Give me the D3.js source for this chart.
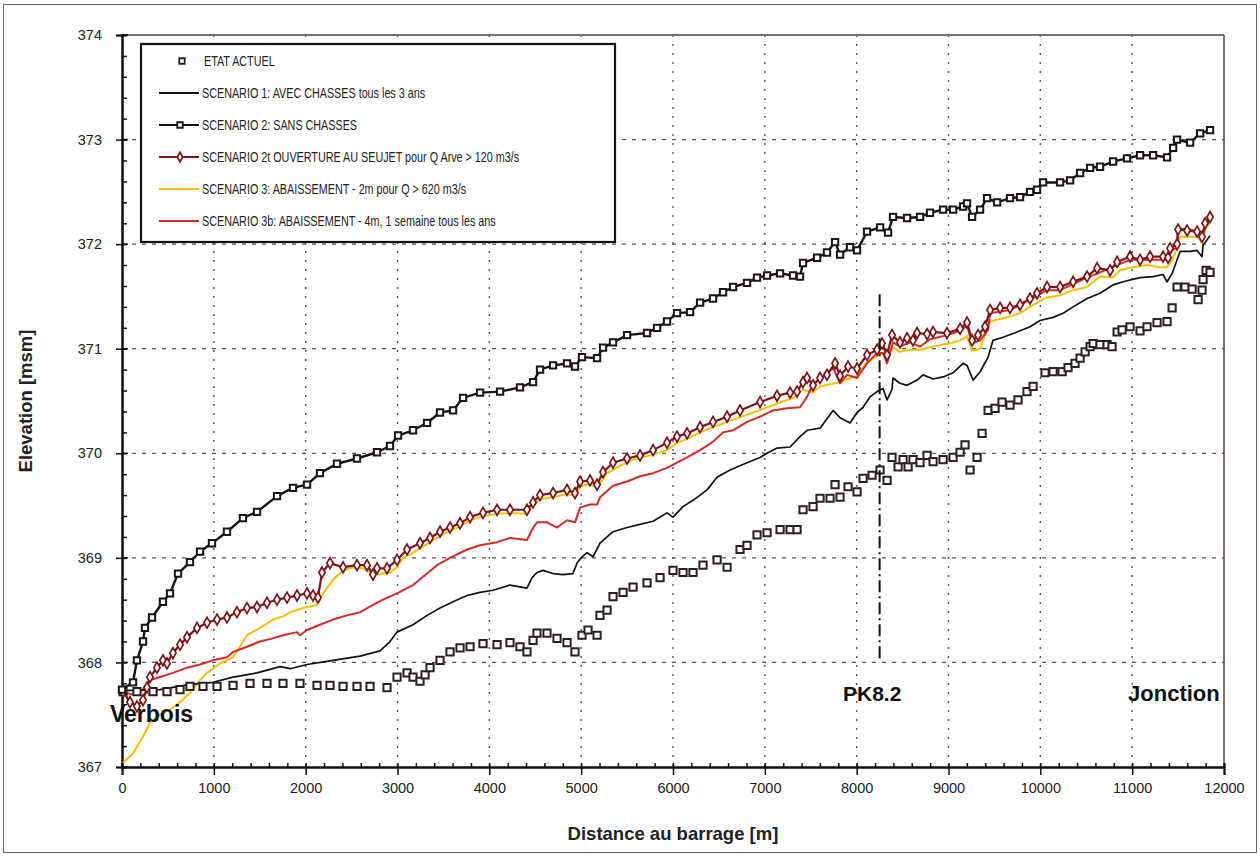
<!DOCTYPE html>
<html><head><meta charset="utf-8">
<script src="https://cdn.jsdelivr.net/npm/d3@7"></script>
<style>
body{margin:0;background:#fff;}
svg{display:block;}
</style></head>
<body>
<svg id="chart" width="1260" height="856"></svg>
<script>
// ---------- DATA ----------
const xTicks = [0,1000,2000,3000,4000,5000,6000,7000,8000,9000,10000,11000,12000];
const yTicks = [367,368,369,370,371,372,373,374];
const legendLabels = [
  "ETAT ACTUEL",
  "SCENARIO 1: AVEC CHASSES tous les 3 ans",
  "SCENARIO 2: SANS CHASSES",
  "SCENARIO 2t OUVERTURE AU SEUJET pour Q Arve > 120 m3/s",
  "SCENARIO 3:  ABAISSEMENT - 2m pour Q > 620 m3/s",
  "SCENARIO 3b: ABAISSEMENT - 4m, 1 semaine tous les ans"
];
const annotations = [
  {text:"Verbois", x:-131, y:367.43, size:23},
  {text:"PK8.2", x:7851, y:367.63, size:21},
  {text:"Jonction", x:10955, y:367.63, size:22}
];
const pkLine = {x:8250, y0:368.0, y1:371.52};

const etatActuel = [[11,367.72],[163,367.72],[338,367.72],[490,367.72],[632,367.74],[740,367.77],[882,367.77],[1035,367.77],[1209,367.78],[1394,367.80],[1579,367.80],[1753,367.80],[1938,367.80],[2124,367.78],[2265,367.78],[2407,367.77],[2559,367.77],[2701,367.77],[2886,367.76],
[2995,367.86],[3104,367.90],[3169,367.86],[3245,367.82],[3300,367.88],[3354,367.95],[3463,368.02],[3572,368.10],[3681,368.14],[3790,368.15],[3931,368.18],[4084,368.17],[4225,368.19],[4334,368.15],[4410,368.10],[4476,368.21],[4519,368.28],[4628,368.28],[4737,368.23],[4846,368.19],[4933,368.10],
[5009,368.26],[5075,368.31],[5173,368.26],[5205,368.45],[5282,368.50],[5347,368.63],[5456,368.67],[5565,368.72],[5717,368.76],[5859,368.81],[6000,368.88],[6109,368.86],[6218,368.86],[6327,368.93],[6480,368.98],[6589,368.91],[6730,369.08],[6806,369.12],[6915,369.22],[7024,369.24],[7166,369.27],[7275,369.27],[7351,369.27],
[7416,369.46],[7525,369.49],[7601,369.57],[7710,369.57],[7765,369.70],[7819,369.58],[7906,369.68],[8004,369.63],[8070,369.76],[8168,369.79],[8255,369.84],[8331,369.74],[8385,369.96],[8451,369.87],[8505,369.94],[8560,369.87],[8614,369.94],[8690,369.91],[8767,369.98],[8832,369.92],[8941,369.94],[9050,369.96],[9126,370.01],[9180,370.08],[9235,369.84],[9311,369.96],[9366,370.19],
[9431,370.41],[9507,370.43],[9583,370.49],[9670,370.46],[9757,370.51],[9855,370.59],[9921,370.64],[10051,370.77],[10139,370.78],[10237,370.78],[10302,370.82],[10378,370.86],[10433,370.91],[10488,370.97],[10542,371.02],[10575,371.05],[10650,371.04],[10727,371.04],[10781,371.02],[10836,371.16],[10890,371.18],[10977,371.21],[11086,371.17],[11162,371.21],[11271,371.25],[11380,371.26],[11435,371.39],[11489,371.59],[11576,371.59],[11653,371.57],[11718,371.47],[11761,371.56],[11772,371.66],[11805,371.75],[11848,371.73]];

const scenario1 = [[0,367.73],[414,367.74],[740,367.79],[991,367.81],[1209,367.86],[1470,367.90],[1721,367.96],[1830,367.94],[2015,367.98],[2298,368.02],[2592,368.06],[2810,368.11],[2918,368.20],[2995,368.29],[3169,368.36],[3322,368.45],[3463,368.52],[3605,368.58],[3757,368.64],[3899,368.67],[4040,368.69],[4225,368.74],[4410,368.71],[4465,368.81],[4519,368.86],[4585,368.88],[4694,368.85],[4802,368.84],[4911,368.85],[4955,368.95],[5009,369.01],[5064,369.05],[5129,369.01],[5205,369.14],[5347,369.25],[5500,369.29],[5641,369.32],[5783,369.35],[5935,369.43],[6000,369.39],[6109,369.49],[6218,369.55],[6371,369.65],[6480,369.77],[6621,369.84],[6806,369.91],[6948,369.96],[7024,370.00],[7133,370.05],[7275,370.06],[7383,370.16],[7460,370.22],[7601,370.24],[7743,370.41],[7819,370.34],[7928,370.29],[8004,370.39],[8070,370.44],[8146,370.54],[8222,370.59],[8287,370.62],[8331,370.51],[8385,370.61],[8396,370.72],[8472,370.67],[8549,370.65],[8658,370.70],[8723,370.75],[8832,370.71],[8941,370.73],[9050,370.77],[9159,370.86],[9202,370.84],[9268,370.70],[9344,370.78],[9431,370.92],[9485,371.08],[9594,371.11],[9747,371.16],[9888,371.21],[9997,371.27],[10139,371.30],[10248,371.34],[10357,371.40],[10509,371.48],[10650,371.53],[10792,371.61],[10901,371.64],[11086,371.68],[11228,371.69],[11336,371.71],[11380,371.64],[11435,371.72],[11489,371.85],[11522,371.93],[11631,371.93],[11707,371.94],[11761,371.88],[11772,371.99],[11848,372.08]];

const scenario2 = [[0,367.74],[120,367.81],[163,368.02],[229,368.20],[250,368.33],[327,368.43],[446,368.58],[523,368.66],[610,368.85],[740,368.96],[850,369.06],[980,369.14],[1143,369.25],[1317,369.38],[1470,369.44],[1688,369.59],[1862,369.67],[2015,369.70],[2156,369.81],[2341,369.90],[2559,369.95],[2777,370.01],[2918,370.07],[3006,370.17],[3169,370.22],[3322,370.29],[3463,370.39],[3605,370.41],[3714,370.53],[3899,370.58],[4117,370.59],[4334,370.63],[4476,370.68],[4552,370.80],[4694,370.84],[4846,370.86],[4933,370.83],[5009,370.92],[5173,370.91],[5238,371.01],[5347,371.06],[5500,371.13],[5717,371.15],[5826,371.20],[5935,371.26],[6044,371.34],[6186,371.35],[6295,371.44],[6436,371.48],[6545,371.54],[6654,371.59],[6806,371.63],[6915,371.68],[7024,371.70],[7166,371.72],[7307,371.70],[7383,371.69],[7416,371.82],[7569,371.87],[7677,371.92],[7765,372.02],[7819,371.90],[7928,371.97],[8004,371.94],[8113,372.12],[8255,372.16],[8342,372.11],[8396,372.26],[8549,372.25],[8690,372.26],[8799,372.30],[8941,372.33],[9050,372.33],[9159,372.36],[9202,372.39],[9257,372.26],[9344,372.33],[9420,372.44],[9529,372.40],[9670,372.44],[9779,372.45],[9888,372.50],[9964,372.52],[10030,372.59],[10215,372.59],[10324,372.61],[10433,372.68],[10542,372.73],[10650,372.74],[10792,372.79],[10944,372.82],[11086,372.85],[11228,372.85],[11380,372.83],[11446,372.92],[11489,373.00],[11631,372.97],[11740,373.06],[11848,373.09]];

const scenario2t = [[11,367.72],[87,367.62],[163,367.58],[229,367.64],[272,367.76],[305,367.86],[381,367.95],[446,368.02],[490,367.99],[555,368.09],[632,368.17],[708,368.24],[817,368.33],[926,368.38],[1035,368.41],[1143,368.43],[1252,368.48],[1361,368.52],[1470,368.53],[1579,368.57],[1688,368.60],[1797,368.62],[1906,368.64],[2015,368.66],[2080,368.64],[2134,368.62],[2178,368.86],[2265,368.95],[2407,368.91],[2559,368.93],[2668,368.93],[2733,368.84],[2777,368.90],[2886,368.90],[2995,368.98],[3104,369.08],[3245,369.14],[3354,369.19],[3463,369.25],[3572,369.29],[3681,369.33],[3790,369.39],[3931,369.43],[4084,369.46],[4225,369.46],[4410,369.46],[4476,369.53],[4552,369.60],[4694,369.62],[4846,369.65],[4933,369.62],[4988,369.73],[5096,369.74],[5173,369.70],[5238,369.82],[5347,369.91],[5500,369.95],[5641,369.98],[5783,370.03],[5935,370.10],[6044,370.16],[6153,370.19],[6295,370.25],[6436,370.30],[6589,370.35],[6730,370.41],[6948,370.49],[7133,370.55],[7275,370.58],[7351,370.59],[7416,370.68],[7460,370.72],[7525,370.65],[7601,370.72],[7677,370.75],[7765,370.86],[7819,370.74],[7906,370.83],[8004,370.81],[8113,370.94],[8222,370.99],[8276,371.05],[8331,370.94],[8385,371.13],[8472,371.06],[8549,371.10],[8614,371.08],[8658,371.15],[8767,371.14],[8832,371.16],[8984,371.15],[9126,371.19],[9202,371.25],[9257,371.08],[9322,371.13],[9398,371.21],[9453,371.37],[9562,371.39],[9670,371.39],[9779,371.42],[9888,371.48],[9964,371.53],[10073,371.59],[10215,371.59],[10357,371.64],[10509,371.69],[10618,371.77],[10760,371.75],[10836,371.83],[10977,371.88],[11086,371.85],[11195,371.88],[11336,371.88],[11391,371.87],[11413,371.96],[11489,372.00],[11500,372.14],[11598,372.13],[11707,372.12],[11761,372.07],[11794,372.20],[11848,372.26]];

const scenario3 = [[11,367.04],[120,367.13],[229,367.29],[305,367.42],[414,367.50],[523,367.55],[632,367.62],[740,367.71],[850,367.83],[926,367.90],[1067,367.99],[1209,368.05],[1285,368.15],[1361,368.26],[1503,368.33],[1644,368.41],[1753,368.44],[1830,368.48],[1971,368.52],[2124,368.55],[2189,368.66],[2298,368.79],[2407,368.88],[2516,368.91],[2624,368.90],[2701,368.86],[2777,368.84],[2918,368.86],[2995,368.91],[3060,369.00],[3136,369.03],[3245,369.09],[3354,369.15],[3463,369.21],[3572,369.26],[3681,369.30],[3790,369.36],[3931,369.40],[4084,369.42],[4225,369.43],[4410,369.42],[4476,369.50],[4552,369.56],[4694,369.58],[4846,369.61],[4933,369.59],[4988,369.68],[5096,369.71],[5173,369.67],[5282,369.81],[5423,369.88],[5565,369.94],[5750,369.98],[5935,370.03],[6044,370.10],[6186,370.15],[6295,370.20],[6436,370.25],[6654,370.32],[6872,370.39],[7057,370.45],[7307,370.53],[7416,370.61],[7525,370.58],[7601,370.64],[7710,370.66],[7819,370.68],[7928,370.72],[8004,370.74],[8113,370.87],[8222,370.93],[8287,370.96],[8331,370.92],[8385,371.02],[8472,370.97],[8581,370.99],[8690,370.99],[8832,371.02],[8941,371.04],[9017,371.05],[9126,371.08],[9202,371.12],[9257,370.98],[9344,371.00],[9453,371.26],[9638,371.30],[9779,371.34],[9921,371.42],[10073,371.49],[10215,371.51],[10357,371.56],[10509,371.59],[10650,371.69],[10792,371.68],[10868,371.75],[11010,371.78],[11162,371.80],[11304,371.78],[11380,371.78],[11435,371.85],[11489,371.96],[11522,372.07],[11631,372.07],[11718,372.07],[11761,372.01],[11794,372.14],[11848,372.21]];

const scenario3b = [[11,367.72],[120,367.69],[229,367.74],[305,367.83],[414,367.86],[555,367.90],[708,367.95],[850,367.98],[991,368.02],[1143,368.05],[1209,368.10],[1361,368.15],[1503,368.20],[1644,368.23],[1753,368.26],[1906,368.29],[1938,368.26],[2015,368.31],[2156,368.36],[2298,368.41],[2450,368.45],[2592,368.48],[2733,368.55],[2842,368.60],[2995,368.66],[3169,368.74],[3322,368.85],[3430,368.93],[3572,369.00],[3757,369.08],[3899,369.12],[4084,369.15],[4225,369.19],[4410,369.17],[4465,369.27],[4519,369.34],[4628,369.34],[4737,369.29],[4846,369.36],[4933,369.34],[4988,369.48],[5096,369.51],[5173,369.51],[5205,369.58],[5347,369.69],[5500,369.73],[5641,369.78],[5783,369.81],[5935,369.86],[6044,369.91],[6153,369.96],[6295,370.03],[6436,370.11],[6545,370.20],[6654,370.22],[6806,370.30],[6948,370.35],[7090,370.41],[7242,370.43],[7383,370.44],[7460,370.54],[7525,370.67],[7601,370.70],[7743,370.82],[7819,370.67],[7895,370.75],[8004,370.72],[8113,370.86],[8222,370.96],[8287,370.96],[8331,370.86],[8396,371.06],[8472,371.02],[8581,371.06],[8690,371.02],[8799,371.09],[8984,371.13],[9126,371.17],[9202,371.22],[9257,371.05],[9344,371.08],[9431,371.18],[9453,371.34],[9670,371.37],[9888,371.47],[10073,371.56],[10215,371.56],[10509,371.68],[10650,371.73],[10836,371.80],[10977,371.85],[11195,371.85],[11380,371.85],[11435,371.94],[11489,371.97],[11500,372.15],[11631,372.14],[11718,372.12],[11761,372.06],[11794,372.16],[11848,372.25]];

// ---------- CHART ----------
const svg = d3.select("#chart");
const W = 1260, H = 856;
const m = {left:122, right:1224, top:35, bottom:767};
const x = d3.scaleLinear().domain([0,12000]).range([m.left, m.right]);
const y = d3.scaleLinear().domain([367,374]).range([m.bottom, m.top]);
const FONT = "'Liberation Sans', Arial, sans-serif";

// outer frame
svg.append("rect").attr("x",3.5).attr("y",4.5).attr("width",W-7).attr("height",H-8)
  .attr("fill","none").attr("stroke","#666").attr("stroke-width",1);

// grid
const grid = svg.append("g");
grid.selectAll("line.h").data(yTicks.filter(v=>v>367 && v<374)).join("line")
  .attr("x1",x(0)).attr("x2",x(12000)).attr("y1",d=>y(d)).attr("y2",d=>y(d))
  .attr("stroke","#555").attr("stroke-width",1.2).attr("stroke-dasharray","4,6");
grid.selectAll("line.v").data(xTicks.filter(v=>v>0 && v<12000)).join("line")
  .attr("x1",d=>x(d)).attr("x2",d=>x(d)).attr("y1",y(374)).attr("y2",y(367))
  .attr("stroke","#555").attr("stroke-width",1.4).attr("stroke-dasharray","2,7");

// top and right frame of plot
svg.append("line").attr("x1",x(0)).attr("x2",x(12000)).attr("y1",y(374)).attr("y2",y(374))
  .attr("stroke","#7a7070").attr("stroke-width",2);
svg.append("line").attr("x1",x(12000)).attr("x2",x(12000)).attr("y1",y(374)).attr("y2",y(367))
  .attr("stroke","#6a4a4a").attr("stroke-width",1.6);

// axes
const xMinor = d3.axisBottom(x).tickValues(d3.range(0,12001,200)).tickSize(-4).tickFormat("");
const xMajor = d3.axisBottom(x).tickValues(xTicks).tickSize(8).tickPadding(8).tickFormat(d3.format("d"));
const yMinor = d3.axisLeft(y).tickValues(d3.range(367,374.001,0.2)).tickSize(-5).tickFormat("");
const yMajor = d3.axisLeft(y).tickValues(yTicks).tickSize(6).tickPadding(14).tickFormat(d3.format("d"));
function styleAxis(g){
  g.select(".domain").attr("stroke","#111").attr("stroke-width",2);
  g.selectAll(".tick line").attr("stroke","#111").attr("stroke-width",1.5);
  g.selectAll("text").attr("font-family",FONT).attr("font-size",14.5).attr("fill","#222");
}
svg.append("g").attr("transform",`translate(0,${m.bottom})`).call(xMinor).call(styleAxis);
svg.append("g").attr("transform",`translate(0,${m.bottom})`).call(xMajor).call(styleAxis);
svg.append("g").attr("transform",`translate(${m.left},0)`).call(yMinor).call(styleAxis);
svg.append("g").attr("transform",`translate(${m.left},0)`).call(yMajor).call(styleAxis);
// major y ticks crossing to the inside
svg.append("g").selectAll("line").data(yTicks).join("line")
  .attr("x1",m.left).attr("x2",m.left+6).attr("y1",d=>y(d)).attr("y2",d=>y(d))
  .attr("stroke","#111").attr("stroke-width",1.5);

// axis titles
svg.append("text").attr("x",(m.left+m.right)/2).attr("y",840).attr("text-anchor","middle")
  .attr("font-family",FONT).attr("font-weight","bold").attr("font-size",18.5).attr("fill","#222")
  .text("Distance au barrage [m]");
svg.append("text").attr("transform",`translate(32,${(m.top+m.bottom)/2}) rotate(-90)`).attr("text-anchor","middle")
  .attr("font-family",FONT).attr("font-weight","bold").attr("font-size",18.5).attr("fill","#222")
  .text("Elevation [msm]");

// series
const line = d3.line().x(d=>x(d[0])).y(d=>y(d[1]));
const plot = svg.append("g");
const series = [
  {data:scenario3, color:"#f2c200", width:2, marker:null},
  {data:scenario3b, color:"#d42a2e", width:2, marker:null},
  {data:scenario1, color:"#111", width:1.7, marker:null},
  {data:scenario2t, color:"#7a1418", width:2.2, marker:"diamond"},
  {data:scenario2, color:"#1a1414", width:2.4, marker:"square"}
];
series.forEach(s=>{
  plot.append("path").datum(s.data).attr("d",line).attr("fill","none")
    .attr("stroke",s.color).attr("stroke-width",s.width).attr("stroke-linejoin","round");
});
// markers
function drawMarkers(data, type, color, size, sw){
  const sym = type==="square" ? d3.symbolSquare : d3.symbolDiamond;
  const gen = d3.symbol().type(sym).size(size);
  plot.append("g").selectAll("path").data(data).join("path")
    .attr("d",gen).attr("transform",d=>`translate(${x(d[0])},${y(d[1])})`)
    .attr("fill","#fff").attr("stroke",color).attr("stroke-width",sw);
}
drawMarkers(etatActuel,"square","#2a2222",52,2);
drawMarkers(scenario2t,"diamond","#7a1418",34,1.7);
drawMarkers(scenario2,"square","#1a1414",40,2);

// PK line
svg.append("line").attr("x1",x(pkLine.x)).attr("x2",x(pkLine.x)).attr("y1",y(pkLine.y1)).attr("y2",y(pkLine.y0))
  .attr("stroke","#111").attr("stroke-width",2).attr("stroke-dasharray","12,4,2,4");

// annotations
svg.selectAll("text.ann").data(annotations).join("text")
  .attr("x",d=>x(d.x)).attr("y",d=>y(d.y))
  .attr("font-family",FONT).attr("font-weight","bold").attr("font-size",d=>d.size)
  .attr("fill","#111").text(d=>d.text);

// legend
const lg = svg.append("g");
lg.append("rect").attr("x",141).attr("y",44).attr("width",474).attr("height",198)
  .attr("fill","#fff").attr("stroke","#111").attr("stroke-width",2.2);
const legendStyles = [
  {color:"#2a2222", line:false, marker:"square"},
  {color:"#111", line:true, marker:null},
  {color:"#1a1414", line:true, marker:"square"},
  {color:"#7a1418", line:true, marker:"diamond"},
  {color:"#f2c200", line:true, marker:null},
  {color:"#d42a2e", line:true, marker:null}
];
legendLabels.forEach((lab,i)=>{
  const yy = 61 + i*32;
  const st = legendStyles[i];
  if(st.line) lg.append("line").attr("x1",159).attr("x2",199).attr("y1",yy).attr("y2",yy)
    .attr("stroke",st.color).attr("stroke-width",2);
  if(st.marker){
    const gen = d3.symbol().type(st.marker==="square"?d3.symbolSquare:d3.symbolDiamond).size(st.marker==="square"?30:26);
    lg.append("path").attr("d",gen).attr("transform",`translate(${i===0?182:180},${yy})`)
      .attr("fill","#fff").attr("stroke",st.color).attr("stroke-width",1.8);
  }
  lg.append("text").attr("transform",`translate(${i===0?204:202},${yy+5}) scale(0.77,1)`)
    .attr("font-family",FONT).attr("font-size",14).attr("fill","#222").text(lab);
});
</script>
</body></html>
